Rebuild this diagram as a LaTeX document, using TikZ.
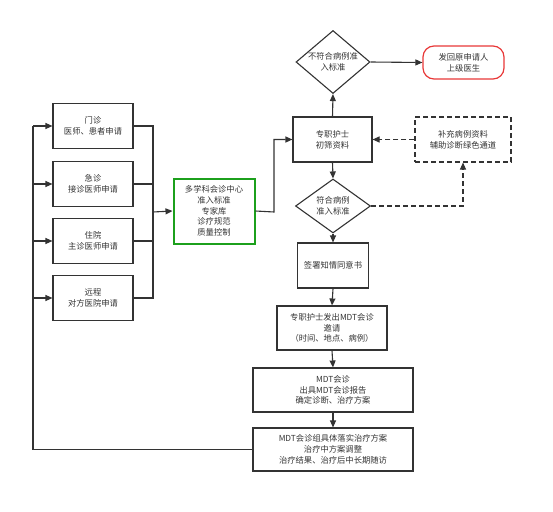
\documentclass[tikz,border=0pt]{standalone}
\usepackage{fontspec}
\setmainfont{Noto Sans CJK SC}
\usetikzlibrary{shapes.geometric,arrows.meta}
\definecolor{linegray}{HTML}{333333}
\definecolor{boxgreen}{HTML}{1CA01C}
\definecolor{boxred}{HTML}{E83838}

\begin{document}
\begin{tikzpicture}[x=1pt,y=-1pt,
   every node/.style={font=\fontsize{8.3pt}{10.8pt}\selectfont,text=linegray,align=center,inner sep=0pt},
   box/.style={draw=linegray,line width=1.1pt,minimum height=45pt},
   choice/.style={draw=linegray,line width=1.1pt,diamond,aspect=1.15},
   line/.style={draw=linegray,line width=1.1pt},
   arrow/.style={line,-{Triangle[length=7pt,width=6pt]}},
   dash line/.style={dash pattern=on 5pt off 3pt}]
   \useasboundingbox (0,0) rectangle (553,511);
   % application sources
   \node[box,minimum width=80pt] (outpat) at (93,126) {门诊\\医师、患者申请};
   \node[box,minimum width=80pt] (emerg) at (93,184) {急诊\\接诊医师申请};
   \node[box,minimum width=80pt] (inpat) at (93,241) {住院\\主诊医师申请};
   \node[box,minimum width=80pt] (remote) at (93,298) {远程\\对方医院申请};
   \node[draw=boxgreen,line width=2pt,minimum width=81pt,minimum height=65pt] (center) at (214,211) {多学科会诊中心\\准入标准\\专家库\\诊疗规范\\质量控制};
   % screening
   \node[box,minimum width=79pt] (nurse) at (332.5,139.5) {专职护士\\初筛资料};
   \node[choice,minimum width=74pt,minimum height=63pt] (reject) at (333,62) {不符合病例准\\入标准};
   \node[draw=boxred,line width=1.2pt,rounded corners=11pt,minimum width=81pt,minimum height=33pt] (back) at (463.5,62.5) {发回原申请人\\上级医生};
   \node[box,dash line,minimum width=96pt] (supply) at (463,139.5) {补充病例资料\\辅助诊断绿色通道};
   \node[choice,minimum width=75pt,minimum height=54pt] (accept) at (333,206) {符合病例\\准入标准};
   % MDT steps
   \node[box,minimum width=71pt] (consent) at (333,265.5) {签署知情同意书};
   \node[box,minimum width=110pt,minimum height=44pt] (invite) at (332,328) {专职护士发出MDT会诊\\邀请\\（时间、地点、病例）};
   \node[box,minimum width=160pt,minimum height=44pt] (mdt) at (333,390) {MDT会诊\\出具MDT会诊报告\\确定诊断、治疗方案};
   \node[box,minimum width=160pt,minimum height=43pt] (follow) at (333,449.5) {MDT会诊组具体落实治疗方案\\治疗中方案调整\\治疗结果、治疗后中长期随访};
   \coordinate (loop) at (33,449.5);
   \coordinate (join) at (153,212);
   \coordinate (bend) at (274,212);
   % connectors
   \draw[line] (follow.west) -- (loop) -- (33,126);
   \draw[arrow] (33,126) -- (outpat.west);
   \draw[arrow] (33,184) -- (emerg.west);
   \draw[arrow] (33,241) -- (inpat.west);
   \draw[arrow] (33,298) -- (remote.west);
   \draw[line] (outpat.east) -| (join);
   \draw[line] (emerg.east) -| (join);
   \draw[line] (inpat.east) -| (join);
   \draw[line] (remote.east) -| (join);
   \draw[arrow] (join) -- (center.west);
   \draw[arrow] (center.east) -- (bend) |- (nurse.west);
   \draw[arrow] (nurse.north) -- (reject.south);
   \draw[arrow] (reject.east) -- (back.west);
   \draw[arrow] (nurse.south) -- (accept.north);
   \draw[arrow,dash line] (supply.west) -- (nurse.east);
   \draw[arrow,dash line] (accept.east) -| (supply.south);
   \draw[arrow] (accept.south) -- (consent.north);
   \draw[arrow] (consent.south) -- (invite.north);
   \draw[arrow] (invite.south) -- (mdt.north);
   \draw[arrow] (mdt.south) -- (follow.north);
\end{tikzpicture}
\end{document}
